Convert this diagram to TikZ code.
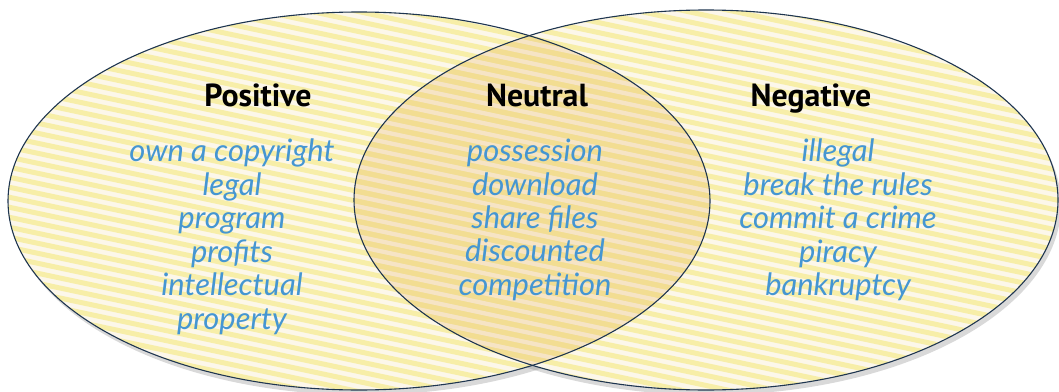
\documentclass[tikz,border=0pt]{standalone}
\usepackage{fontspec}
\setmainfont{PT Sans}
\newfontfamily\termfont{Lato}
\usetikzlibrary{positioning,shadows}

\definecolor{stripeyellow}{HTML}{F7EEA8}
\definecolor{paleback}{HTML}{FCF7EA}
\definecolor{lensorange}{HTML}{E3A850}
\definecolor{rimblue}{HTML}{1E3550}
\definecolor{termblue}{HTML}{4596D2}

\begin{document}
\begin{tikzpicture}[x=1bp,y=1bp,
   heading/.style={font=\fontsize{32}{36}\selectfont\bfseries,text=black,
     text height=24bp,text depth=7bp,anchor=base},
   terms/.style={font=\termfont\itshape\fontsize{31}{33.6}\selectfont,
     text=termblue,align=center,execute at begin node=\strut},
   rim/.style={draw=rimblue,line width=1.1pt},
   stripes/.style={stripeyellow,line width=5bp}]
  \useasboundingbox (0,0) rectangle (1059,391);
  % ovals with shadow
  \fill[paleback,drop shadow={shadow xshift=3bp,shadow yshift=-5bp,opacity=0.3}]
    (359,190) ellipse [x radius=351,y radius=189];
  \fill[paleback,drop shadow={shadow xshift=3bp,shadow yshift=-5bp,opacity=0.3}]
    (706,191) ellipse [x radius=352,y radius=190];
  \fill[paleback] (359,190) ellipse [x radius=351,y radius=189];
  % stripes
  \begin{scope}
    \clip (359,190) ellipse [x radius=351,y radius=189];
    \foreach \k in {0,...,64}
      \draw[stripes] (-20,10*\k) -- (1080,10*\k-234);
  \end{scope}
  \begin{scope}
    \clip (706,191) ellipse [x radius=352,y radius=190];
    \foreach \k in {0,...,64}
      \draw[stripes] (-20,10*\k) -- (1080,10*\k-234);
  \end{scope}
  % overlap
  \begin{scope}
    \clip (359,190) ellipse [x radius=351,y radius=189];
    \fill[lensorange,opacity=0.24] (706,191) ellipse [x radius=352,y radius=190];
  \end{scope}
  \draw[rim] (359,190) ellipse [x radius=351,y radius=189];
  \draw[rim] (706,191) ellipse [x radius=352,y radius=190];

  \node[heading] (posHead) at (258,285) {Positive};
  \node[heading] (neuHead) at (537,285) {Neutral};
  \node[heading] (negHead) at (811,285) {Negative};

  \node[terms,below=19bp of posHead,xshift=-26bp] (posTerms)
    {own a copyright\\legal\\program\\profits\\intellectual\\property};
  \node[terms,below=19bp of neuHead,xshift=-2bp] (neuTerms)
    {possession\\download\\share files\\discounted\\competition};
  \node[terms,below=19bp of negHead,xshift=27bp] (negTerms)
    {illegal\\break the rules\\commit a crime\\piracy\\bankruptcy};
\end{tikzpicture}
\end{document}
